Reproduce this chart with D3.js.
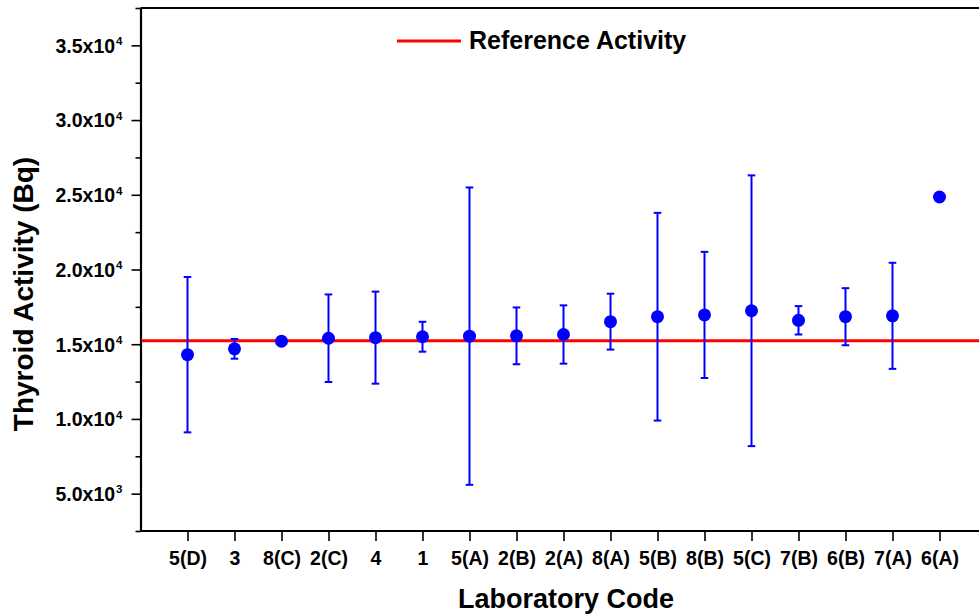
<!DOCTYPE html>
<html>
<head>
<meta charset="utf-8">
<script src="https://cdn.jsdelivr.net/npm/d3@7"></script>
<style>
  html, body { margin: 0; padding: 0; background: #fff; }
  svg { display: block; font-family: "Liberation Sans", Arial, sans-serif; font-weight: bold; }
  svg text { font-family: "Liberation Sans", Arial, sans-serif; font-weight: bold; }
</style>
</head>
<body>
<svg id="chart" width="979" height="614"></svg>
<script>
// Laboratory codes in plotted order
const labs = ["5(D)", "3", "8(C)", "2(C)", "4", "1", "5(A)", "2(B)", "2(A)",
              "8(A)", "5(B)", "8(B)", "5(C)", "7(B)", "6(B)", "7(A)", "6(A)"];
// Reported thyroid activity (Bq)
const activity = [14300, 14690, 15200, 15400, 15440, 15500, 15540, 15560, 15650,
                  16510, 16840, 16960, 17240, 16600, 16840, 16900, 24850];
// Reported uncertainty (Bq)
const uncertainty = [5200, 660, 250, 2930, 3080, 1000, 9950, 1900, 1950,
                     1870, 6950, 4220, 9060, 950, 1910, 3550, 0];
// Reference activity (Bq)
const refActivity = 15240;
// Axis ticks
const yMajorTicks = [5000, 10000, 15000, 20000, 25000, 30000, 35000];
const yMinorTicks = [2500, 7500, 12500, 17500, 22500, 27500, 32500, 37500];

const svg = d3.select("#chart");
const W = 979;

const x = d3.scaleLinear().domain([0, 18]).range([140.5, 986.5]);
const y = d3.scaleLinear().domain([2500, 37500]).range([531, 8]);

const blue = "#0000ff";
const red = "#ff0000";

// Frame top line
svg.append("line")
  .attr("x1", x(0)).attr("x2", W)
  .attr("y1", y(37500)).attr("y2", y(37500))
  .attr("stroke", "#000").attr("stroke-width", 2);

// Y axis (major ticks with custom scientific labels)
const yAxis = d3.axisLeft(y).tickValues(yMajorTicks).tickSize(9).tickSizeOuter(0).tickFormat(() => "");
const gy = svg.append("g").attr("transform", `translate(${x(0)},0)`).call(yAxis);
gy.attr("font-family", null).attr("font-size", null);
gy.select(".domain").attr("stroke", "#000").attr("stroke-width", 2.2);
gy.selectAll(".tick line").attr("stroke", "#000").attr("stroke-width", 1.6);
gy.selectAll(".tick").each(function(d) {
  const e = Math.floor(Math.log10(d));
  const m = (d / Math.pow(10, e)).toFixed(1);
  const t = d3.select(this).append("text")
    .attr("x", -18).attr("y", 6.8)
    .attr("text-anchor", "end")
    .attr("fill", "#000")
    .style("font-size", "19.5px");
  t.append("tspan").text(m + "x10");
  t.append("tspan").attr("dx", 1).attr("dy", -7.5).style("font-size", "11.5px").text(e);
});

// Y minor ticks
const yMinor = d3.axisLeft(y).tickValues(yMinorTicks).tickSize(5).tickSizeOuter(0).tickFormat(() => "");
const gym = svg.append("g").attr("transform", `translate(${x(0)},0)`).call(yMinor);
gym.select(".domain").remove();
gym.selectAll(".tick line").attr("stroke", "#000").attr("stroke-width", 1.6);

// X axis
const xAxis = d3.axisBottom(x)
  .tickValues(d3.range(1, labs.length + 1))
  .tickSize(10).tickSizeOuter(0)
  .tickFormat(i => labs[i - 1]);
const gx = svg.append("g").attr("transform", `translate(0,${y(2500)})`).call(xAxis);
gx.attr("font-family", null).attr("font-size", null);
gx.select(".domain").attr("d", `M${x(0)},0H${W}`).attr("stroke", "#000").attr("stroke-width", 2.2);
gx.selectAll(".tick line").attr("stroke", "#000").attr("stroke-width", 1.6);
gx.selectAll(".tick text")
  .attr("y", 34).attr("dy", 0)
  .attr("fill", "#000")
  .style("font-size", "19.5px");

// Reference activity line
svg.append("line")
  .attr("x1", x(0) + 1).attr("x2", W)
  .attr("y1", y(refActivity)).attr("y2", y(refActivity))
  .attr("stroke", red).attr("stroke-width", 3);

// Error bars
const pts = labs.map((lab, i) => ({ lab, i: i + 1, v: activity[i], u: uncertainty[i] }));
const eb = svg.append("g").selectAll("g").data(pts.filter(d => d.u > 0)).join("g");
eb.append("line")
  .attr("x1", d => x(d.i)).attr("x2", d => x(d.i))
  .attr("y1", d => y(d.v + d.u)).attr("y2", d => y(d.v - d.u))
  .attr("stroke", blue).attr("stroke-width", 2);
[1, -1].forEach(s => {
  eb.append("line")
    .attr("x1", d => x(d.i) - 3.8).attr("x2", d => x(d.i) + 3.8)
    .attr("y1", d => y(d.v + s * d.u)).attr("y2", d => y(d.v + s * d.u))
    .attr("stroke", blue).attr("stroke-width", 2);
});

// Data points
svg.append("g").selectAll("circle").data(pts).join("circle")
  .attr("cx", d => x(d.i)).attr("cy", d => y(d.v))
  .attr("r", 6.5).attr("fill", blue);

// Legend
svg.append("line")
  .attr("x1", 397).attr("x2", 461).attr("y1", 41).attr("y2", 41)
  .attr("stroke", red).attr("stroke-width", 3);
svg.append("text")
  .attr("x", 469).attr("y", 49)
  .attr("fill", "#000")
  .style("font-size", "25px")
  .text("Reference Activity");

// Axis titles
svg.append("text")
  .attr("x", 566).attr("y", 608)
  .attr("text-anchor", "middle")
  .attr("fill", "#000")
  .style("font-size", "27px")
  .text("Laboratory Code");
svg.append("text")
  .attr("transform", "translate(33,294) rotate(-90)")
  .attr("text-anchor", "middle")
  .attr("fill", "#000")
  .style("font-size", "28px")
  .text("Thyroid Activity (Bq)");
</script>
</body>
</html>
